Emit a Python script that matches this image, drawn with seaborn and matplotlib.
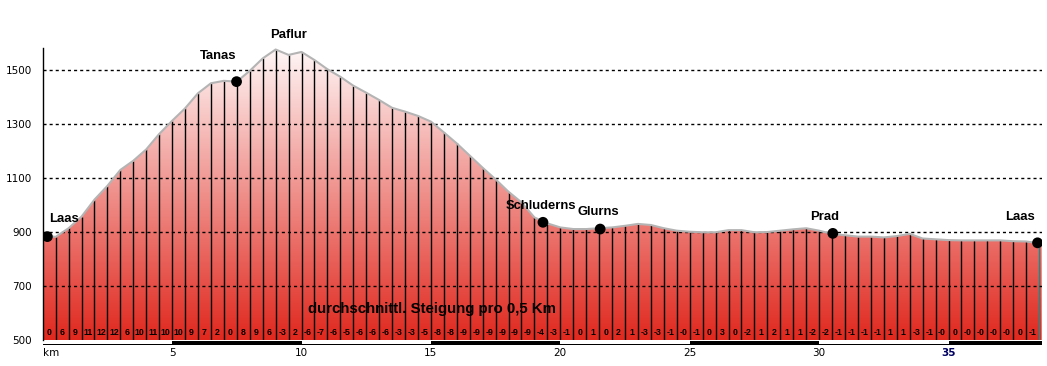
import numpy as np
import pandas as pd
import matplotlib.pyplot as plt
import seaborn as sns
from matplotlib.colors import LinearSegmentedColormap
from matplotlib.patches import Rectangle
import matplotlib.transforms as mtransforms

# elevation profile, read every 0.5 km
km = list(np.arange(0, 38.51, 0.5)) + [38.6]
elevation = [887, 882, 914, 957, 1020, 1071, 1130, 1164, 1206, 1263,
             1312, 1358, 1414, 1451, 1460, 1457, 1497, 1543, 1576, 1556,
             1567, 1537, 1503, 1475, 1442, 1416, 1389, 1360, 1346, 1330,
             1309, 1269, 1228, 1183, 1138, 1095, 1049, 1010, 954, 932,
             917, 911, 911, 914, 917, 923, 930, 926, 914, 905,
             901, 899, 899, 907, 907, 899, 900, 905, 910, 914,
             905, 893, 888, 883, 883, 880, 885, 893, 876, 873,
             870, 869, 869, 869, 869, 866, 865, 858, 858]

# average gradient per 0.5 km segment
grades = ['0', '6', '9', '11', '12', '12', '6', '10', '11', '10',
          '10', '9', '7', '2', '0', '8', '9', '6', '-3', '2',
          '-6', '-7', '-6', '-5', '-6', '-6', '-6', '-3', '-3', '-5',
          '-8', '-8', '-9', '-9', '-9', '-9', '-9', '-9', '-4', '-3',
          '-1', '0', '1', '0', '2', '1', '-3', '-3', '-1', '-0',
          '-1', '0', '3', '0', '-2', '1', '2', '1', '1', '-2',
          '-2', '-1', '-1', '-1', '-1', '1', '1', '-3', '-1', '-0',
          '0', '-0', '-0', '-0', '-0', '0', '-1']

places = ['Laas', 'Tanas', 'Schluderns', 'Glurns', 'Prad', 'Laas']
place_km = [0.18, 7.49, 19.33, 21.54, 30.53, 38.44]
place_elev = [883, 1457, 936, 911, 895, 860]
label_km = [0.25, 6.76, 19.27, 21.47, 30.23, 37.76]
label_elev = [948, 1553, 996, 974, 955, 957]

df = pd.DataFrame({'km': km, 'elev': elevation})
pts = pd.DataFrame({'km': place_km, 'elev': place_elev})

sns.set_style('white')
plt.rcParams['font.family'] = ['Liberation Sans', 'DejaVu Sans']
plt.rcParams['text.color'] = 'black'
plt.rcParams['xtick.color'] = 'black'
plt.rcParams['ytick.color'] = 'black'

xmax, ymin, ymax = 38.62, 500, 1581.5
fig = plt.figure(figsize=(10.47, 3.66), dpi=100)
ax = fig.add_axes([0.0408, 0.0710, 0.9546, 0.7978])

# gradient fill under the profile
poly = ax.fill_between(df.km, ymin, df.elev, color='none', lw=0)
cmap = LinearSegmentedColormap.from_list('hill', ['#e0281e', '#fffafa'])
grad = np.linspace(0, 1, 256).reshape(-1, 1)
im = ax.imshow(grad, cmap=cmap, aspect='auto', origin='lower',
               extent=[0, xmax, ymin, 1600], zorder=1)
im.set_clip_path(poly.get_paths()[0], transform=ax.transData)

# dashed grid
for y in [700, 900, 1100, 1300, 1500]:
    ax.axhline(y, color='black', lw=1, dashes=(2.2, 2.2), zorder=3)

# segment lines
seg = df.iloc[1:-1]
ax.vlines(seg.km[:-1], ymin, seg.elev[:-1], color='black', lw=1.0, zorder=2)
ax.vlines(seg.km.iloc[-1], ymin, seg.elev.iloc[-1], color='#1a8a8a', lw=1.0, zorder=2)

sns.lineplot(data=df, x='km', y='elev', color='#b4b4b4', lw=1.5, ax=ax, zorder=4)
sns.scatterplot(data=pts, x='km', y='elev', color='black', s=60, ax=ax,
                zorder=6, edgecolor='none')

for name, x, y in zip(places, label_km, label_elev):
    ha = 'left' if x < 1 else 'center'
    ax.text(x, y, name, ha=ha, va='center', fontsize=9.4, fontweight='bold', zorder=7)
ax.text(9.5, 1628, 'Paflur', ha='center', va='center', fontsize=9.4,
        fontweight='bold', clip_on=False)

ax.text(15.04, 615, 'durchschnittl. Steigung pro 0,5 Km', ha='center', va='center',
        fontsize=10.8, fontweight='bold', zorder=7)
for i, g in enumerate(grades):
    ax.text(0.25 + 0.5 * i, 527, g, ha='center', va='center', fontsize=6.3,
            fontweight='bold', zorder=7)

# scale bar under the axis
trans = mtransforms.blended_transform_factory(ax.transData, ax.transAxes)
ax.add_patch(Rectangle((0, -0.0154), xmax, 0.0137, transform=trans,
                       color='black', lw=0, clip_on=False))
for start in [0, 10, 20, 30]:
    ax.add_patch(Rectangle((start, -0.0120), 5, 0.0103, transform=trans,
                           color='white', lw=0, clip_on=False))

ax.set_xlim(0, xmax)
ax.set_ylim(ymin, ymax)
ax.set_xlabel('')
ax.set_ylabel('')
ax.set_yticks([500, 700, 900, 1100, 1300, 1500])
ax.tick_params(axis='y', length=0, pad=7.7, labelsize=7.5, labelfontfamily='DejaVu Sans')
ax.set_xticks([0, 5, 10, 15, 20, 25, 30, 35])
ax.set_xticklabels(['km', '5', '10', '15', '20', '25', '30', '35'])
ax.tick_params(axis='x', length=0, pad=6, labelsize=7.5, labelfontfamily='DejaVu Sans')
xl = ax.get_xticklabels()
xl[0].set_ha('left')
xl[-1].set_fontweight('bold')
xl[-1].set_color('#000060')

for s in ['top', 'right', 'bottom']:
    ax.spines[s].set_visible(False)
ax.spines['left'].set_color('black')
ax.spines['left'].set_linewidth(1)
ax.spines['left'].set_zorder(5)

fig.savefig('out.png', dpi=100)
